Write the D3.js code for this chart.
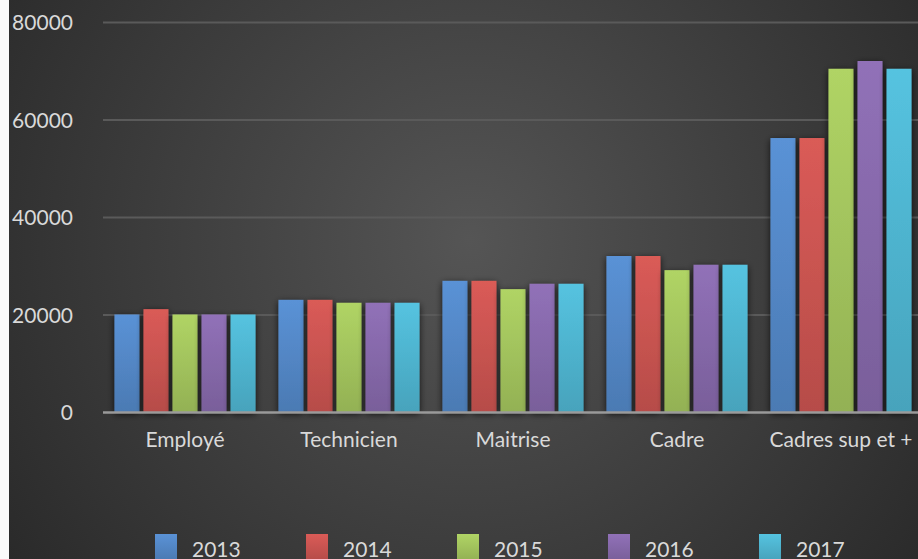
<!DOCTYPE html>
<html>
<head>
<meta charset="utf-8">
<script src="https://cdn.jsdelivr.net/npm/d3@7"></script>
<style>
  body { margin: 0; background: #fafafa; }
  text { font-family: Lato, 'Open Sans', sans-serif; }
</style>
</head>
<body>
<div class="chart"></div>
<script>
// data
var categories = ['Employé', 'Technicien', 'Maitrise', 'Cadre', 'Cadres sup et +']
var years = ['2013', '2014', '2015', '2016', '2017']
var v2013 = [20000, 23000, 26900, 32000, 56200]
var v2014 = [21100, 23000, 26900, 32000, 56200]
var v2015 = [20000, 22400, 25200, 29100, 70400]
var v2016 = [20000, 22400, 26300, 30200, 72000]
var v2017 = [20000, 22400, 26300, 30200, 70400]
var yTicks = [0, 20000, 40000, 60000, 80000]

var series = [v2013, v2014, v2015, v2016, v2017]
var colors = ['#4f81bd', '#c0504d', '#9bbb59', '#8064a2', '#4bacc6']

var svgWidth = 918
var svgHeight = 559

var margin = { top: 22, bottom: 147, left: 103, right: -5 }
var width = svgWidth - margin.left - margin.right
var height = svgHeight - margin.top - margin.bottom

var svg = d3.select('.chart')
    .append('svg')
    .attr('width', svgWidth)
    .attr('height', svgHeight)
    .style('display', 'block')

var defs = svg.append('defs')

var bg = defs.append('radialGradient')
    .attr('id', 'bg')
    .attr('gradientUnits', 'userSpaceOnUse')
    .attr('cx', 470).attr('cy', 240).attr('r', 560)
bg.append('stop').attr('offset', 0).attr('stop-color', '#555555')
bg.append('stop').attr('offset', 1).attr('stop-color', '#2a2a2a')

colors.forEach(function(c, i) {
    var g = defs.append('linearGradient')
        .attr('id', 'bar' + i)
        .attr('x1', 0).attr('y1', 0).attr('x2', 0).attr('y2', 1)
    g.append('stop').attr('offset', 0).attr('stop-color', d3.color(c).brighter(0.35))
    g.append('stop').attr('offset', 1).attr('stop-color', d3.color(c).darker(0.15))
})

var shadow = defs.append('filter')
    .attr('id', 'shadow')
    .attr('x', '-30%').attr('y', '-10%').attr('width', '160%').attr('height', '125%')
shadow.append('feDropShadow')
    .attr('dx', 0).attr('dy', 2)
    .attr('stdDeviation', 3.5)
    .attr('flood-color', '#000')
    .attr('flood-opacity', 0.75)

// background panel
svg.append('rect')
    .attr('x', 9).attr('y', 0)
    .attr('width', svgWidth - 9).attr('height', svgHeight)
    .attr('fill', 'url(#bg)')

var chartGroup = svg.append('g')
    .attr('transform', `translate(${margin.left}, ${margin.top})`)

var x0 = d3.scaleBand()
    .domain(categories)
    .range([0, width])
    .paddingInner(0.14)
    .paddingOuter(0.07)

var x1 = d3.scaleBand()
    .domain(years)
    .range([0, x0.bandwidth()])
    .paddingInner(0.14)

var y = d3.scaleLinear()
    .domain([0, 80000])
    .range([height, 0])

// Y axis with gridlines
var yAxis = chartGroup.append('g')
    .call(d3.axisLeft(y)
        .tickValues(yTicks)
        .tickSize(-width - 10)
        .tickPadding(30)
        .tickFormat(d3.format('d')))
yAxis.select('.domain').remove()
yAxis.selectAll('.tick line')
    .attr('stroke', '#5a5a5a')
    .attr('stroke-width', 2)
    .filter(d => d === 0).remove()
yAxis.selectAll('.tick text')
    .attr('fill', '#d9d9d9')
    .attr('font-size', '21px')
    .attr('dy', '0.36em')

// Bars
var groups = chartGroup.selectAll('.group')
    .data(categories)
    .enter().append('g')
    .attr('transform', d => `translate(${x0(d)}, 0)`)

groups.selectAll('rect')
    .data((d, ci) => years.map((yr, si) => ({ year: yr, si: si, value: series[si][ci] })))
    .enter().append('rect')
    .attr('x', d => x1(d.year))
    .attr('y', d => y(d.value))
    .attr('width', x1.bandwidth())
    .attr('height', d => height - y(d.value))
    .attr('fill', d => `url(#bar${d.si})`)
    .attr('filter', 'url(#shadow)')

// baseline
chartGroup.append('line')
    .attr('x1', 0).attr('x2', width + 10)
    .attr('y1', height + 0.5).attr('y2', height + 0.5)
    .attr('stroke', '#9a9a9a')
    .attr('stroke-width', 2.5)

// X axis labels
var xAxis = chartGroup.append('g')
    .attr('transform', `translate(0, ${height})`)
    .call(d3.axisBottom(x0).tickSize(0).tickPadding(35))
xAxis.select('.domain').remove()
xAxis.selectAll('.tick text')
    .attr('fill', '#d9d9d9')
    .attr('font-size', '21px')
    .attr('dy', 0)

// Legend
var legend = svg.append('g')
    .selectAll('g')
    .data(years)
    .enter().append('g')
    .attr('transform', (d, i) => `translate(${155 + i * 151}, 534)`)

legend.append('rect')
    .attr('width', 22)
    .attr('height', 26)
    .attr('fill', (d, i) => `url(#bar${i})`)

legend.append('text')
    .attr('x', 37)
    .attr('y', 23)
    .attr('fill', '#d9d9d9')
    .attr('font-size', '21px')
    .text(d => d)
</script>
</body>
</html>
